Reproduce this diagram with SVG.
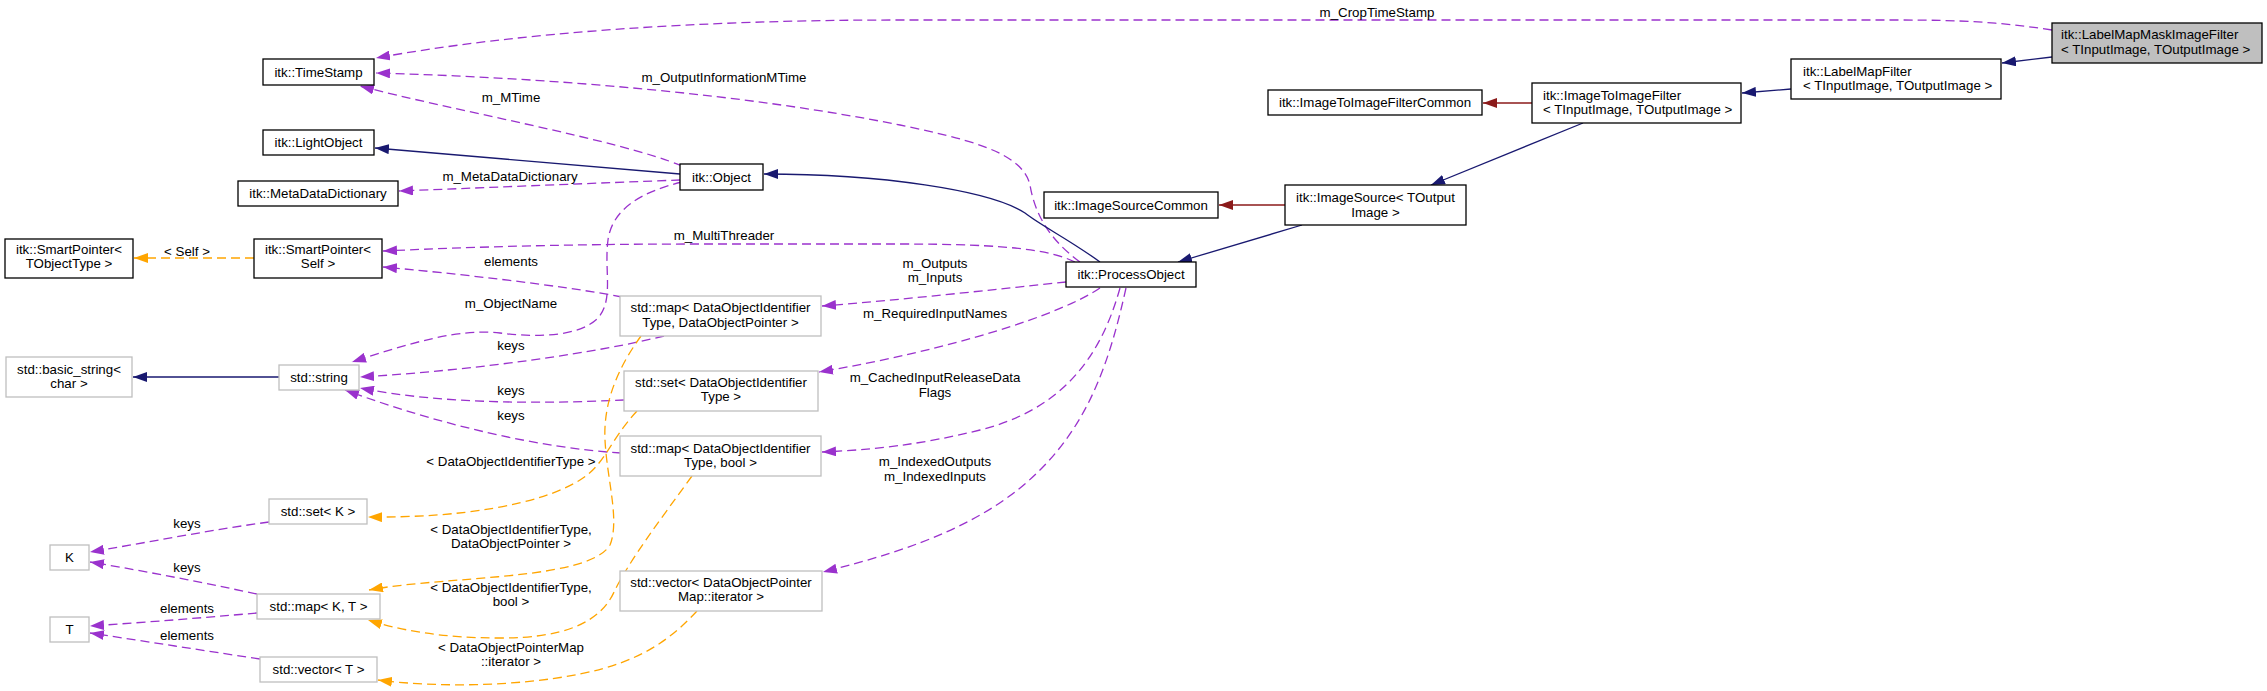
<svg xmlns="http://www.w3.org/2000/svg" width="2267" height="691" viewBox="0 0 2267 691">
<style>
.bg{fill:#ffffff}
.n rect{fill:#ffffff;stroke:#000000;stroke-width:1.3}
.g rect{fill:#ffffff;stroke:#bfbfbf;stroke-width:1.3}
.hl rect{fill:#bfbfbf;stroke:#000000;stroke-width:1.3}
text{font-family:"Liberation Sans",Arial,Helvetica,sans-serif;font-size:13.3px;fill:#000000}
.c{text-anchor:middle}
.l{text-anchor:start}
.e path{fill:none;stroke-width:1.3}
.p{stroke:#9a32cd;stroke-dasharray:9,5}
.o{stroke:#ffa500;stroke-dasharray:9,5}
.nv{stroke:#191970}
.fb{stroke:#8b1a1a}
.p{marker-end:url(#mp)}
.o{marker-end:url(#mo)}
.nv{marker-end:url(#mn)}
.fb{marker-end:url(#mf)}
</style>
<defs>
<marker id="mp" markerUnits="userSpaceOnUse" markerWidth="14" markerHeight="10" refX="14" refY="5" orient="auto"><path d="M0,0 L14,5 L0,10 Z" fill="#9a32cd"/></marker>
<marker id="mo" markerUnits="userSpaceOnUse" markerWidth="14" markerHeight="10" refX="14" refY="5" orient="auto"><path d="M0,0 L14,5 L0,10 Z" fill="#ffa500"/></marker>
<marker id="mn" markerUnits="userSpaceOnUse" markerWidth="14" markerHeight="10" refX="14" refY="5" orient="auto"><path d="M0,0 L14,5 L0,10 Z" fill="#191970"/></marker>
<marker id="mf" markerUnits="userSpaceOnUse" markerWidth="14" markerHeight="10" refX="14" refY="5" orient="auto"><path d="M0,0 L14,5 L0,10 Z" fill="#8b1a1a"/></marker>
</defs>
<rect class="bg" x="0" y="0" width="2267" height="691"/>

<g id="edges" class="e">
<path class="p" d="M2052,30 C2000,22 1960,20 1900,20 L900,20 C700,20 520,32 376,58"/>
<text class="c" x="1377" y="16.5">m_CropTimeStamp</text>
<path class="p" d="M1080,262 C1050,240 1035,215 1030,185 C1022,150 960,138 900,125 C750,95 560,78 376,73"/>
<text class="c" x="724" y="81.5">m_OutputInformationMTime</text>
<path class="p" d="M682,166 C620,140 450,110 360,86"/>
<text class="c" x="511" y="101.5">m_MTime</text>
<path class="nv" d="M680,174 L375,148"/>
<path class="p" d="M680,180 C600,183 500,187 399,191"/>
<text class="c" x="510" y="180.5">m_MetaDataDictionary</text>
<path class="p" d="M682,182 C640,192 612,210 608,240 C604,270 614,300 598,318 C580,336 540,338 500,333 C460,328 410,343 352,362"/>
<text class="c" x="511" y="307.5">m_ObjectName</text>
<path class="p" d="M1075,262 C1050,250 1010,244 900,244 L700,244 C550,244 450,248 383,251"/>
<text class="c" x="724" y="239.5">m_MultiThreader</text>
<path class="p" d="M622,297 C560,285 450,273 383,267"/>
<text class="c" x="511" y="265.5">elements</text>
<path class="p" d="M1066,282 C990,290 900,300 822,306"/>
<text class="c" x="935" y="267.5">m_Outputs</text>
<text class="c" x="935" y="281.5">m_Inputs</text>
<path class="p" d="M664,336 C600,352 480,370 360,377"/>
<text class="c" x="511" y="349.5">keys</text>
<path class="p" d="M624,400 C540,404 440,404 360,388"/>
<text class="c" x="511" y="394.5">keys</text>
<path class="p" d="M621,453 C540,448 440,425 345,390"/>
<text class="c" x="511" y="419.5">keys</text>
<path class="p" d="M1100,288 C1060,315 950,350 819,372"/>
<text class="c" x="935" y="317.5">m_RequiredInputNames</text>
<path class="p" d="M1120,288 C1100,360 1060,410 980,430 C920,445 870,450 822,452"/>
<text class="c" x="935" y="381.5">m_CachedInputReleaseData</text>
<text class="c" x="935" y="396.5">Flags</text>
<path class="p" d="M1126,288 C1110,360 1090,420 1040,470 C990,520 920,548 823,572"/>
<text class="c" x="935" y="465.5">m_IndexedOutputs</text>
<text class="c" x="935" y="480.5">m_IndexedInputs</text>
<path class="o" d="M637,411 C610,440 605,465 580,480 C540,505 460,518 368,517"/>
<text class="c" x="511" y="465.5">&lt; DataObjectIdentifierType &gt;</text>
<path class="o" d="M641,336 C620,365 603,400 605,440 C607,480 620,520 610,545 C595,570 520,575 460,580 C420,583 390,586 369,590"/>
<text class="c" x="511" y="533.5">&lt; DataObjectIdentifierType,</text>
<text class="c" x="511" y="547.5">DataObjectPointer &gt;</text>
<path class="o" d="M692,476 C660,520 630,560 615,590 C600,625 560,638 500,638 C440,638 400,630 368,620"/>
<text class="c" x="511" y="591.5">&lt; DataObjectIdentifierType,</text>
<text class="c" x="511" y="605.5">bool &gt;</text>
<path class="o" d="M697,611 C670,640 640,662 580,674 C520,686 440,688 378,680"/>
<text class="c" x="511" y="651.5">&lt; DataObjectPointerMap</text>
<text class="c" x="511" y="665.5">::iterator &gt;</text>
<path class="p" d="M269,522 C210,530 150,542 90,552"/>
<text class="c" x="187" y="527.5">keys</text>
<path class="p" d="M257,594 C200,582 150,572 90,562"/>
<text class="c" x="187" y="571.5">keys</text>
<path class="p" d="M257,613 C200,618 150,622 90,626"/>
<text class="c" x="187" y="612.5">elements</text>
<path class="p" d="M260,659 C200,650 150,642 90,633"/>
<text class="c" x="187" y="639.5">elements</text>
<path class="nv" d="M279,377 L133,377"/>
<path class="o" d="M254,258 L134,258"/>
<text class="c" x="187" y="255.5">&lt; Self &gt;</text>
<path class="nv" d="M1100,262 C1070,240 1040,225 1025,213 C990,190 880,174 764,174"/>
<path class="nv" d="M1302,225 L1178,262"/>
<path class="fb" d="M1285,205 L1219,205"/>
<path class="nv" d="M1583,123 L1431,185"/>
<path class="fb" d="M1532,103 L1483,103"/>
<path class="nv" d="M1791,89 L1742,93"/>
<path class="nv" d="M2052,57 L2002,63"/>
</g>

<g id="LabelMapMaskImageFilter" class="hl"><rect x="2052" y="23" width="210" height="40"/><text class="l" x="2061" y="38.7">itk::LabelMapMaskImageFilter</text><text class="l" x="2061" y="53.7">&lt; TInputImage, TOutputImage &gt;</text></g>
<g id="LabelMapFilter" class="n"><rect x="1791" y="59" width="210" height="40"/><text class="l" x="1803" y="75.7">itk::LabelMapFilter</text><text class="l" x="1803" y="89.7">&lt; TInputImage, TOutputImage &gt;</text></g>
<g id="ImageToImageFilter" class="n"><rect x="1532" y="83" width="209" height="40"/><text class="l" x="1543" y="99.7">itk::ImageToImageFilter</text><text class="l" x="1543" y="113.7">&lt; TInputImage, TOutputImage &gt;</text></g>
<g id="ImageToImageFilterCommon" class="n"><rect x="1268" y="90" width="214" height="25"/><text class="c" x="1375" y="107">itk::ImageToImageFilterCommon</text></g>
<g id="ImageSource" class="n"><rect x="1285" y="185" width="181" height="40"/><text class="c" x="1375.5" y="201.7">itk::ImageSource&lt; TOutput</text><text class="c" x="1375.5" y="216.7">Image &gt;</text></g>
<g id="ImageSourceCommon" class="n"><rect x="1044" y="192" width="174" height="26"/><text class="c" x="1131" y="209.5">itk::ImageSourceCommon</text></g>
<g id="ProcessObject" class="n"><rect x="1066" y="262" width="130" height="25"/><text class="c" x="1131" y="279">itk::ProcessObject</text></g>
<g id="Object" class="n"><rect x="680" y="164" width="83" height="26"/><text class="c" x="721.5" y="181.5">itk::Object</text></g>
<g id="TimeStamp" class="n"><rect x="263" y="59" width="111" height="26"/><text class="c" x="318.5" y="76.7">itk::TimeStamp</text></g>
<g id="LightObject" class="n"><rect x="263" y="130" width="111" height="25"/><text class="c" x="318.5" y="147">itk::LightObject</text></g>
<g id="MetaDataDictionary" class="n"><rect x="238" y="181" width="160" height="25"/><text class="c" x="318" y="198">itk::MetaDataDictionary</text></g>
<g id="SmartPointerSelf" class="n"><rect x="254" y="239" width="128" height="39"/><text class="c" x="318" y="254">itk::SmartPointer&lt;</text><text class="c" x="318" y="268">Self &gt;</text></g>
<g id="SmartPointerTObjectType" class="n"><rect x="5" y="239" width="128" height="39"/><text class="c" x="69" y="254">itk::SmartPointer&lt;</text><text class="c" x="69" y="268">TObjectType &gt;</text></g>
<g id="MapDOITDOP" class="g"><rect x="620" y="296" width="201" height="40"/><text class="c" x="720.5" y="312.4">std::map&lt; DataObjectIdentifier</text><text class="c" x="720.5" y="327.4">Type, DataObjectPointer &gt;</text></g>
<g id="String" class="g"><rect x="279" y="365" width="80" height="25"/><text class="c" x="319" y="382">std::string</text></g>
<g id="BasicString" class="g"><rect x="6" y="357" width="126" height="40"/><text class="c" x="69" y="373.7">std::basic_string&lt;</text><text class="c" x="69" y="388">char &gt;</text></g>
<g id="SetDOIT" class="g"><rect x="624" y="371" width="194" height="40"/><text class="c" x="721" y="387.4">std::set&lt; DataObjectIdentifier</text><text class="c" x="721" y="401.4">Type &gt;</text></g>
<g id="MapDOITBool" class="g"><rect x="620" y="436" width="201" height="40"/><text class="c" x="720.5" y="452.5">std::map&lt; DataObjectIdentifier</text><text class="c" x="720.5" y="466.7">Type, bool &gt;</text></g>
<g id="VectorDOPMapIterator" class="g"><rect x="620" y="571" width="202" height="40"/><text class="c" x="721" y="587.4">std::vector&lt; DataObjectPointer</text><text class="c" x="721" y="601.4">Map::iterator &gt;</text></g>
<g id="SetK" class="g"><rect x="269" y="499" width="98" height="25"/><text class="c" x="318" y="516">std::set&lt; K &gt;</text></g>
<g id="K" class="g"><rect x="50" y="545" width="39" height="25"/><text class="c" x="69.5" y="562">K</text></g>
<g id="MapKT" class="g"><rect x="257" y="594" width="123" height="25"/><text class="c" x="318.5" y="611">std::map&lt; K, T &gt;</text></g>
<g id="T" class="g"><rect x="50" y="617" width="39" height="25"/><text class="c" x="69.5" y="634">T</text></g>
<g id="VectorT" class="g"><rect x="260" y="657" width="117" height="25"/><text class="c" x="318.5" y="674">std::vector&lt; T &gt;</text></g>
</svg>
